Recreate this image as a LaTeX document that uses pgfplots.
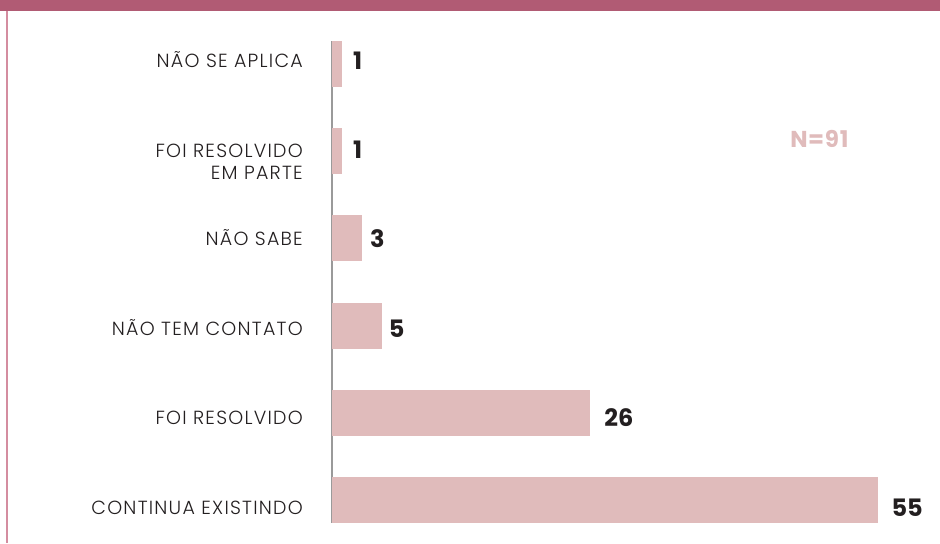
\documentclass[border=0pt]{standalone}
\usepackage{pgfplots}
\pgfplotsset{compat=1.18}
\usepackage{fontspec}
\setmainfont{Poppins}
\IfFontExistsTF{Poppins Light}{\newfontfamily\labelfont{Poppins Light}[LetterSpace=6.5]}{\newfontfamily\labelfont{Poppins}[LetterSpace=6.5]}
\newfontfamily\nfont{Poppins}[LetterSpace=3]
\definecolor{band}{HTML}{B15B74}
\definecolor{sideline}{HTML}{D48DA0}
\definecolor{barc}{HTML}{E0BBBB}
\definecolor{axisc}{HTML}{9A9A9A}
\definecolor{txt}{HTML}{231F20}
\begin{document}
\begin{tikzpicture}[x=1pt,y=1pt]
\fill[white] (0,0) rectangle (940,543);
\fill[band] (0,532) rectangle (940,543);
\draw[sideline, line width=1.5pt] (7,0) -- (7,532);
\begin{axis}[
  at={(332pt,20pt)}, anchor=south west,
  scale only axis, width=600pt, height=482pt,
  xbar, bar width=46pt, bar shift=0pt,
  xmin=0, xmax=60.4, ymin=-0.264, ymax=5.264,
  axis x line=none, axis y line*=left,
  y axis line style={-, draw=axisc, line width=2.2pt},
  ytick={-0.161,0.864,1.889,2.915,3.679,4.965},
  yticklabels={CONTINUA EXISTINDO, FOI RESOLVIDO, NÃO TEM CONTATO, NÃO SABE, {FOI RESOLVIDO\\EM PARTE}, NÃO SE APLICA},
  major tick length=0pt,
  yticklabel style={anchor=base east, inner sep=0pt, xshift=-29pt, align=right, text=txt, font=\labelfont\fontsize{19}{22}\selectfont},
  /pgf/number format/assume math mode=true,
  nodes near coords,
  nodes near coords style={anchor=base west, inner sep=0pt, text=txt, font=\bfseries\fontsize{24}{24}\selectfont},
  clip=false,
]
\addplot[fill=barc, draw=none, nodes near coords style={xshift=13pt, yshift=-16.5pt}] coordinates {(55,0)};
\addplot[fill=barc, draw=none, nodes near coords style={xshift=14pt, yshift=-13.8pt}] coordinates {(26,1)};
\addplot[fill=barc, draw=none, nodes near coords style={xshift=7pt, yshift=-12pt}] coordinates {(5,2)};
\addplot[fill=barc, draw=none, nodes near coords style={xshift=8pt, yshift=-9.5pt}] coordinates {(3,3)};
\addplot[fill=barc, draw=none, nodes near coords style={xshift=11pt, yshift=-7.5pt}] coordinates {(1,4)};
\addplot[fill=barc, draw=none, nodes near coords style={xshift=11pt, yshift=-5pt}] coordinates {(1,5)};
\node[text=barc, font=\nfont\bfseries\fontsize{23}{23}\selectfont] at (axis cs:49.06,4.14) {N=91};
\end{axis}
\end{tikzpicture}
\end{document}
